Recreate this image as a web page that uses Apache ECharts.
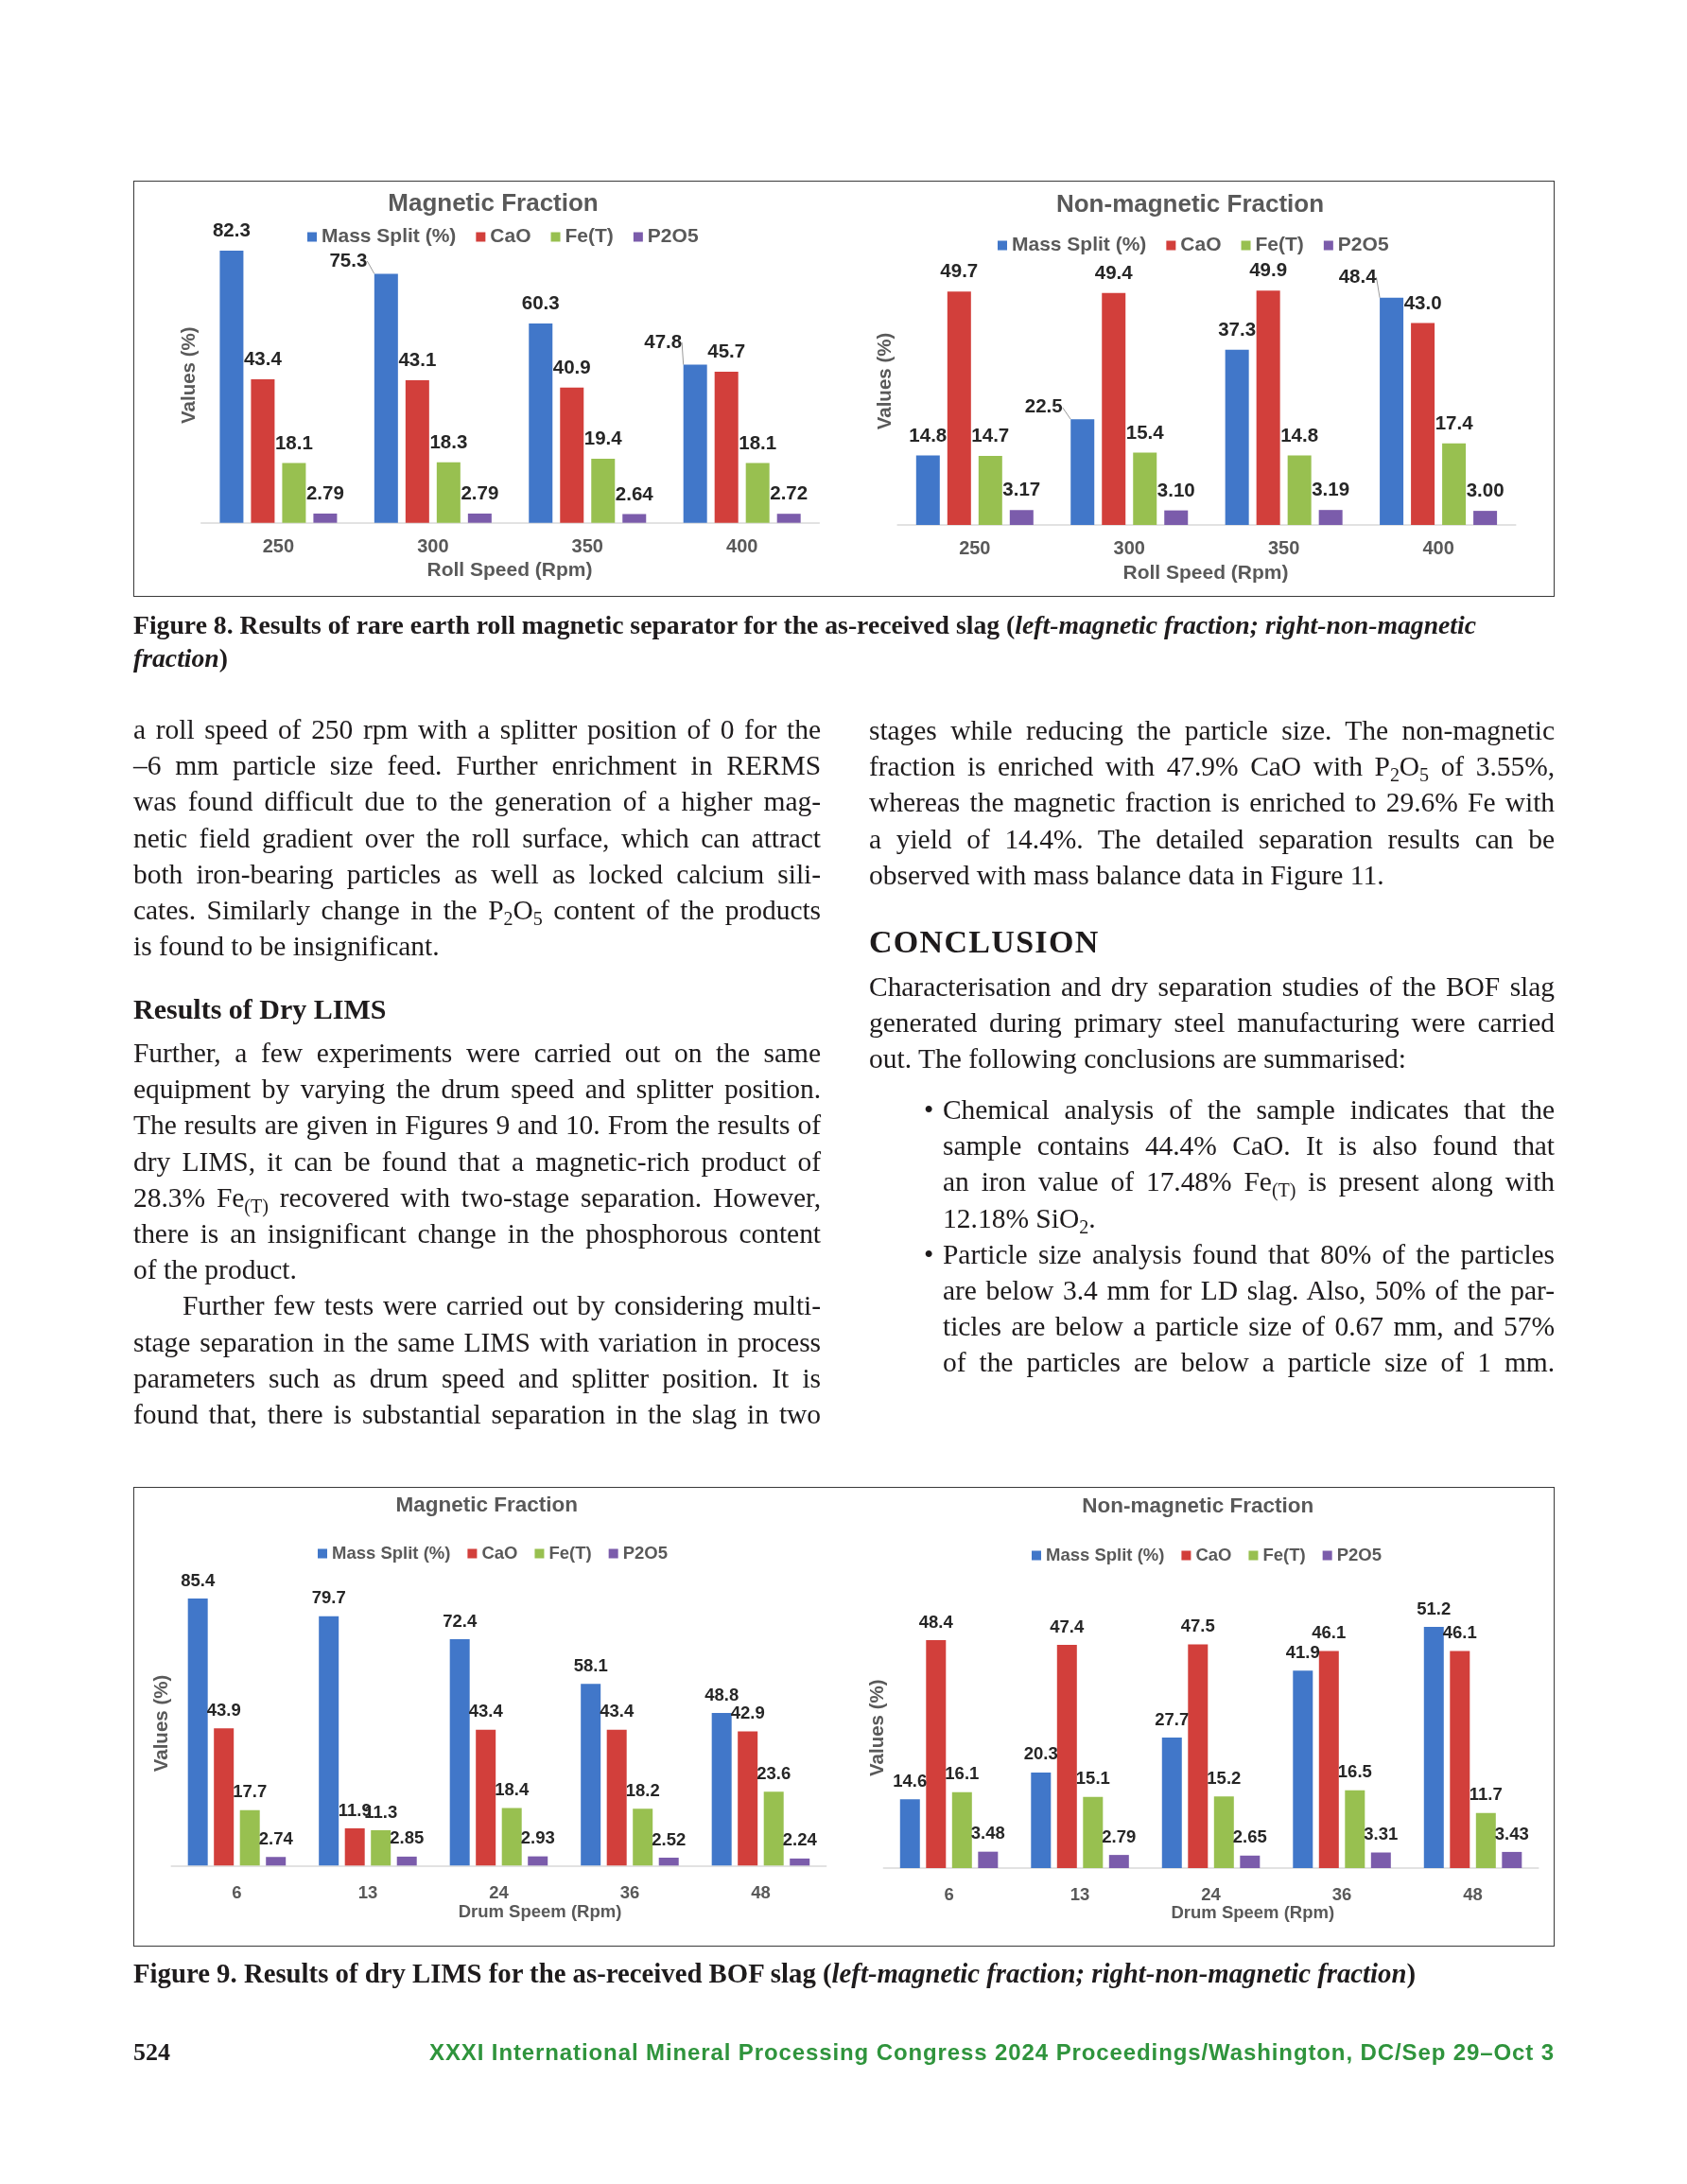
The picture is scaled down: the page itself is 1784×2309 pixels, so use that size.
<!DOCTYPE html>
<html>
<head>
<meta charset="utf-8">
<script src="https://cdn.jsdelivr.net/npm/echarts@6/dist/echarts.min.js"></script>
<style>
  html,body{margin:0;padding:0;background:#fff;}
  #page{position:relative;width:1784px;height:2309px;overflow:hidden;background:#fff;}
  #chart{position:absolute;left:0;top:0;width:1784px;height:2309px;}
  .box{position:absolute;border:1.6px solid #3a3a3a;box-sizing:border-box;}
  .blk{position:absolute;font-family:'Liberation Serif','Times New Roman',serif;font-size:29.5px;color:#1e1b1c;}
  .ln{height:38.2px;line-height:38.2px;}
  .j{text-align:justify;text-align-last:justify;}
  .ind{padding-left:52px;}
  sub{font-size:0.68em;vertical-align:-0.3em;line-height:0;}
  .head{position:absolute;font-family:'Liberation Serif','Times New Roman',serif;font-weight:bold;color:#1e1b1c;white-space:nowrap;}
  .cap{position:absolute;font-family:'Liberation Serif','Times New Roman',serif;font-weight:bold;font-size:25px;line-height:35px;color:#1e1b1c;white-space:nowrap;}
  .bul{position:absolute;left:-20px;}
</style>
</head>
<body>
<div id="page">
  <div id="chart"></div>

  <div class="box" style="left:141px;top:191px;width:1503px;height:440px;"></div>
  <div class="box" style="left:141px;top:1572px;width:1503px;height:486px;"></div>

  <div class="cap" id="cap8a" style="left:141px;top:643px;" data-fitsize="1420">Figure 8. Results of rare earth roll magnetic separator for the as-received slag (<i>left-magnetic fraction; right-non-magnetic</i></div>
  <div class="cap" id="cap8b" style="left:141px;top:678px;"><i>fraction</i>)</div>

  <!-- left column -->
  <div class="blk" style="left:141px;top:752px;width:727px;">
    <div class="ln j">a roll speed of 250 rpm with a splitter position of 0 for the</div>
    <div class="ln j">–6 mm particle size feed. Further enrichment in RERMS</div>
    <div class="ln j">was found difficult due to the generation of a higher mag-</div>
    <div class="ln j">netic field gradient over the roll surface, which can attract</div>
    <div class="ln j">both iron-bearing particles as well as locked calcium sili-</div>
    <div class="ln j">cates. Similarly change in the P<sub>2</sub>O<sub>5</sub> content of the products</div>
    <div class="ln">is found to be insignificant.</div>
  </div>
  <div class="head" style="left:141px;top:1048px;font-size:30px;line-height:38px;">Results of Dry LIMS</div>
  <div class="blk" style="left:141px;top:1094px;width:727px;">
    <div class="ln j">Further, a few experiments were carried out on the same</div>
    <div class="ln j">equipment by varying the drum speed and splitter position.</div>
    <div class="ln j">The results are given in Figures 9 and 10. From the results of</div>
    <div class="ln j">dry LIMS, it can be found that a magnetic-rich product of</div>
    <div class="ln j">28.3% Fe<sub>(T)</sub> recovered with two-stage separation. However,</div>
    <div class="ln j">there is an insignificant change in the phosphorous content</div>
    <div class="ln">of the product.</div>
    <div class="ln j ind">Further few tests were carried out by considering multi-</div>
    <div class="ln j">stage separation in the same LIMS with variation in process</div>
    <div class="ln j">parameters such as drum speed and splitter position. It is</div>
    <div class="ln j">found that, there is substantial separation in the slag in two</div>
  </div>

  <!-- right column -->
  <div class="blk" style="left:919px;top:753px;width:725px;">
    <div class="ln j">stages while reducing the particle size. The non-magnetic</div>
    <div class="ln j">fraction is enriched with 47.9% CaO with P<sub>2</sub>O<sub>5</sub> of 3.55%,</div>
    <div class="ln j">whereas the magnetic fraction is enriched to 29.6% Fe with</div>
    <div class="ln j">a yield of 14.4%. The detailed separation results can be</div>
    <div class="ln">observed with mass balance data in Figure 11.</div>
  </div>
  <div class="head" style="left:919px;top:976px;font-size:34px;line-height:40px;letter-spacing:1.3px;">CONCLUSION</div>
  <div class="blk" style="left:919px;top:1024px;width:725px;">
    <div class="ln j">Characterisation and dry separation studies of the BOF slag</div>
    <div class="ln j">generated during primary steel manufacturing were carried</div>
    <div class="ln">out. The following conclusions are summarised:</div>
  </div>
  <div class="blk" style="left:997px;top:1154px;width:647px;">
    <div class="ln j" style="position:relative;"><span class="bul">•</span>Chemical analysis of the sample indicates that the</div>
    <div class="ln j">sample contains 44.4% CaO. It is also found that</div>
    <div class="ln j">an iron value of 17.48% Fe<sub>(T)</sub> is present along with</div>
    <div class="ln">12.18% SiO<sub>2</sub>.</div>
    <div class="ln j" style="position:relative;"><span class="bul">•</span>Particle size analysis found that 80% of the particles</div>
    <div class="ln j">are below 3.4 mm for LD slag. Also, 50% of the par-</div>
    <div class="ln j">ticles are below a particle size of 0.67 mm, and 57%</div>
    <div class="ln j">of the particles are below a particle size of 1 mm.</div>
  </div>

  <div class="cap" style="left:141px;top:2069px;" data-fitsize="1356">Figure 9. Results of dry LIMS for the as-received BOF slag (<i>left-magnetic fraction; right-non-magnetic fraction</i>)</div>

  <div class="cap" style="left:141px;top:2155px;font-size:26px;line-height:30px;">524</div>
  <div style="position:absolute;left:454px;top:2155px;width:1190px;text-align:right;font-family:'Liberation Sans',Arial,sans-serif;font-weight:bold;font-size:24px;line-height:30px;color:#2f943c;white-space:nowrap;" data-fit="1190">XXXI International Mineral Processing Congress 2024 Proceedings/Washington, DC/Sep 29–Oct 3</div>
</div>

<script>
// ---------------- data ----------------
const seriesNames = ['Mass Split (%)', 'CaO', 'Fe(T)', 'P2O5'];

const rollSpeeds = ['250', '300', '350', '400'];
const rermsMagMass = [82.3, 75.3, 60.3, 47.8];
const rermsMagCaO  = [43.4, 43.1, 40.9, 45.7];
const rermsMagFe   = [18.1, 18.3, 19.4, 18.1];
const rermsMagP2O5 = [2.79, 2.79, 2.64, 2.72];

const rermsNonMass = [14.8, 22.5, 37.3, 48.4];
const rermsNonCaO  = [49.7, 49.4, 49.9, 43.0];
const rermsNonFe   = [14.7, 15.4, 14.8, 17.4];
const rermsNonP2O5 = [3.17, 3.10, 3.19, 3.00];

const drumSpeeds = ['6', '13', '24', '36', '48'];
const limsMagMass = [85.4, 79.7, 72.4, 58.1, 48.8];
const limsMagCaO  = [43.9, 11.9, 43.4, 43.4, 42.9];
const limsMagFe   = [17.7, 11.3, 18.4, 18.2, 23.6];
const limsMagP2O5 = [2.74, 2.85, 2.93, 2.52, 2.24];

const limsNonMass = [14.6, 20.3, 27.7, 41.9, 51.2];
const limsNonCaO  = [48.4, 47.4, 47.5, 46.1, 46.1];
const limsNonFe   = [16.1, 15.1, 15.2, 16.5, 11.7];
const limsNonP2O5 = [3.48, 2.79, 2.65, 3.31, 3.43];

const decimals = [1, 1, 1, 2];

// ---------------- styling / layout ----------------
const colors = ['#4177c9', '#d23f3b', '#98c050', '#7b5cab'];
const FONT = "'Liberation Sans', Arial, sans-serif";

const panels = [
  { cats: rollSpeeds, vals: [rermsMagMass, rermsMagCaO, rermsMagFe, rermsMagP2O5],
    grid: {left: 212.7, top: 203.1, width: 653.7, height: 349.6}, max: 100,
    barWidth: 25, barGap: '32%', labelSize: 20.5, dist: 10, catSize: 20, catMargin: 16,
    moved: {1: [-40, 7], 3: [-34, -3]},
    legend: {left: 320, top: 235, fontSize: 21, itemGap: 21},
    title: {text: 'Magnetic Fraction', x: 521.5, y: 216, size: 26},
    xName: {text: 'Roll Speed (Rpm)', x: 539, y: 603, size: 21},
    yName: {x: 200.7, y: 396.7, size: 20.5} },
  { cats: rollSpeeds, vals: [rermsNonMass, rermsNonCaO, rermsNonFe, rermsNonP2O5],
    grid: {left: 949.1, top: 257.2, width: 653.7, height: 297.8}, max: 60,
    barWidth: 25, barGap: '32%', labelSize: 20.5, dist: 10, catSize: 20, catMargin: 15,
    moved: {1: [-41, 8], 3: [-36, -1]},
    legend: {left: 1050, top: 244, fontSize: 21, itemGap: 21},
    title: {text: 'Non-magnetic Fraction', x: 1258.5, y: 217, size: 26},
    xName: {text: 'Roll Speed (Rpm)', x: 1275, y: 606.7, size: 21},
    yName: {x: 936, y: 403, size: 20.5} },
  { cats: drumSpeeds, vals: [limsMagMass, limsMagCaO, limsMagFe, limsMagP2O5],
    grid: {left: 181.2, top: 1641.7, width: 692.5, height: 330.6}, max: 100,
    barWidth: 21, barGap: '31%', labelSize: 18.5, dist: 9, catSize: 18.5, catMargin: 20,
    moved: {},
    legend: {left: 331, top: 1628, fontSize: 18.5, itemGap: 18},
    title: {text: 'Magnetic Fraction', x: 514.8, y: 1592, size: 22.5},
    xName: {text: 'Drum Speem (Rpm)', x: 571, y: 2021.7, size: 18.5},
    yName: {x: 171.5, y: 1822, size: 20.5} },
  { cats: drumSpeeds, vals: [limsNonMass, limsNonCaO, limsNonFe, limsNonP2O5],
    grid: {left: 934.3, top: 1676.2, width: 692.5, height: 298.8}, max: 60,
    barWidth: 21, barGap: '31%', labelSize: 18.5, dist: 9, catSize: 18.5, catMargin: 19,
    moved: {},
    legend: {left: 1086, top: 1630, fontSize: 18.5, itemGap: 18},
    title: {text: 'Non-magnetic Fraction', x: 1266.8, y: 1593, size: 22.5},
    xName: {text: 'Drum Speem (Rpm)', x: 1324.8, y: 2023, size: 18.5},
    yName: {x: 928.6, y: 1826.7, size: 20.5} }
];

function txt(t, x, y, size, color, rot) {
  return {
    type: 'text', x: x, y: y, rotation: rot || 0, z: 100, silent: true,
    style: {
      text: t, fill: color, font: 'bold ' + size + 'px ' + FONT,
      align: 'center', verticalAlign: 'middle',
      textAlign: 'center', textVerticalAlign: 'middle'
    }
  };
}

const option = {
  animation: false,
  backgroundColor: 'transparent',
  grid: [], xAxis: [], yAxis: [], series: [], legend: [], graphic: []
};

panels.forEach((p, gi) => {
  option.grid.push(Object.assign({containLabel: false}, p.grid));
  option.xAxis.push({
    type: 'category', gridIndex: gi, data: p.cats,
    axisLine: {show: true, lineStyle: {color: '#d9d9d9', width: 1.5}},
    axisTick: {show: false},
    axisLabel: {margin: p.catMargin, fontSize: p.catSize, fontWeight: 'bold', color: '#595959', fontFamily: FONT},
    splitLine: {show: false}
  });
  option.yAxis.push({
    type: 'value', gridIndex: gi, min: 0, max: p.max, show: false, splitLine: {show: false}
  });
  p.vals.forEach((arr, si) => {
    const moved = si === 0 ? p.moved : {};
    const data = arr.map((v, i) => moved[i]
      ? {value: v, labelLine: {show: true, lineStyle: {color: '#9a9a9a', width: 1}}}
      : {value: v});
    const s = {
      type: 'bar', name: seriesNames[si], xAxisIndex: gi, yAxisIndex: gi,
      data: data, barWidth: p.barWidth, barGap: p.barGap,
      itemStyle: {color: colors[si]},
      label: {
        show: true, position: 'top', distance: p.dist,
        fontSize: p.labelSize, fontWeight: 'bold', color: '#262626', fontFamily: FONT,
        formatter: (prm) => Number(prm.value).toFixed(decimals[si])
      }
    };
    if (si === 0 && Object.keys(moved).length) {
      s.labelLine = {show: false, lineStyle: {color: '#9a9a9a', width: 1}, length2: 0};
      s.labelLayout = function (prm) {
        const o = moved[prm.dataIndex];
        return o ? {dx: o[0], dy: o[1]} : {};
      };
    }
    option.series.push(s);
  });
  option.legend.push({
    left: p.legend.left, top: p.legend.top, orient: 'horizontal',
    data: seriesNames, icon: 'rect', itemWidth: 10, itemHeight: 10,
    itemGap: p.legend.itemGap, selectedMode: false,
    textStyle: {fontSize: p.legend.fontSize, fontWeight: 'bold', color: '#595959', fontFamily: FONT}
  });
  option.graphic.push(txt(p.title.text, p.title.x, p.title.y, p.title.size, '#595959'));
  option.graphic.push(txt(p.xName.text, p.xName.x, p.xName.y, p.xName.size, '#595959'));
  option.graphic.push(txt('Values (%)', p.yName.x, p.yName.y, p.yName.size, '#595959', Math.PI / 2));
});

const chart = echarts.init(document.getElementById('chart'), null, {renderer: 'canvas'});
chart.setOption(option);

// ---------------- text fitting ----------------
document.querySelectorAll('.ln').forEach(el => {
  el.innerHTML = '<span class="t" style="white-space:nowrap">' + el.innerHTML + '</span>';
  const s = el.firstChild;
  const cs = getComputedStyle(el);
  const avail = el.clientWidth - parseFloat(cs.paddingLeft) - parseFloat(cs.paddingRight);
  const w = s.getBoundingClientRect().width;
  const n = s.textContent.length;
  if (w > avail - 2) s.style.letterSpacing = ((avail - 3 - w) / n).toFixed(3) + 'px';
  s.style.whiteSpace = 'normal';
});
document.querySelectorAll('[data-fitsize]').forEach(el => {
  el.innerHTML = '<span style="white-space:nowrap">' + el.innerHTML + '</span>';
  const s = el.firstChild;
  const base = parseFloat(getComputedStyle(el).fontSize);
  const target = +el.dataset.fitsize;
  let w = s.getBoundingClientRect().width;
  let fs = Math.max(22, Math.min(29, base * target / w));
  el.style.fontSize = fs.toFixed(2) + 'px';
  if (el.id === 'cap8a') document.getElementById('cap8b').style.fontSize = fs.toFixed(2) + 'px';
  w = s.getBoundingClientRect().width;
  const n = s.textContent.length;
  s.style.letterSpacing = ((target - w) / n).toFixed(3) + 'px';
});
document.querySelectorAll('[data-fit]').forEach(el => {
  el.innerHTML = '<span style="white-space:nowrap">' + el.innerHTML + '</span>';
  const s = el.firstChild;
  const w = s.getBoundingClientRect().width;
  const n = s.textContent.length;
  const target = +el.dataset.fit;
  let ls = (target - w) / n;
  ls = Math.max(-2.5, Math.min(2.5, ls));
  s.style.letterSpacing = ls.toFixed(3) + 'px';
});
</script>
</body>
</html>
